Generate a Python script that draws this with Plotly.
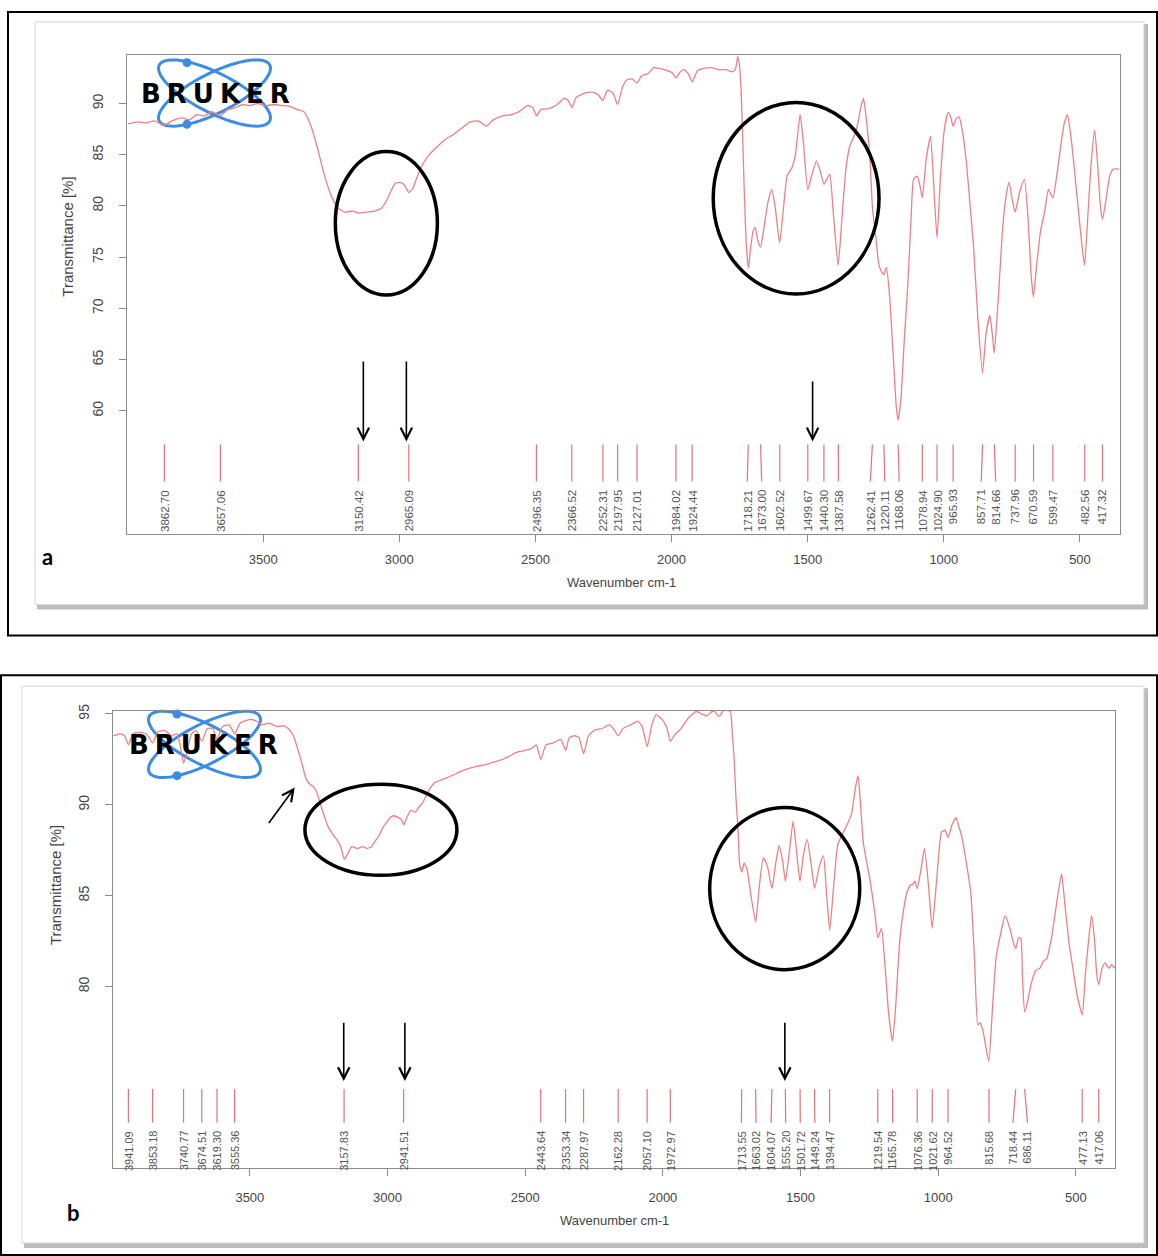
import numpy as np
import plotly.graph_objects as go

W, H = 1158, 1256

# ---------------- data: panel a ----------------
wn_a = [3996, 3960, 3930, 3900, 3862, 3835, 3800, 3770, 3745, 3715,
        3688, 3657, 3630, 3600, 3575, 3550, 3520, 3490, 3460, 3430,
        3400, 3375, 3350, 3327, 3300, 3275, 3250, 3225, 3200, 3170,
        3150, 3120, 3090, 3065, 3045, 3030, 3015, 2995, 2980, 2965,
        2950, 2935, 2915, 2890, 2860, 2830, 2800, 2770, 2740, 2710,
        2680, 2655, 2620, 2590, 2560, 2530, 2510, 2496, 2480, 2450,
        2420, 2395, 2380, 2366, 2350, 2320, 2290, 2268, 2252, 2235,
        2215, 2198, 2180, 2165, 2145, 2127, 2110, 2087, 2065, 2040,
        2015, 1998, 1984, 1968, 1954, 1938, 1924, 1905, 1885, 1855,
        1825, 1800, 1775, 1765, 1757, 1750, 1745, 1740, 1733, 1725,
        1718, 1710, 1700, 1693, 1683, 1673, 1660, 1645, 1632, 1620,
        1603, 1590, 1575, 1560, 1545, 1528, 1515, 1500, 1485, 1468,
        1455, 1440, 1430, 1419, 1405, 1388, 1375, 1360, 1346, 1330,
        1318, 1305, 1295, 1285, 1272, 1262, 1250, 1240, 1230, 1220,
        1211, 1200, 1185, 1175, 1168, 1158, 1145, 1131, 1120, 1111,
        1098, 1088, 1079, 1065, 1049, 1037, 1025, 1012, 998, 984,
        975, 966, 955, 944, 930, 917, 905, 891, 875, 858,
        845, 831, 822, 815, 800, 784, 770, 760, 750, 738,
        720, 704, 690, 680, 671, 660, 645, 630, 616, 608,
        599, 585, 570, 558, 546, 532, 517, 500, 490, 483,
        470, 458, 446, 435, 425, 417, 405, 390, 377, 357]
tr_a = [88.0, 88.2, 88.1, 88.3, 87.9, 88.3, 88.6, 88.4, 88.9, 88.8,
        89.2, 88.8, 89.4, 89.6, 89.9, 89.8, 90.0, 89.8, 89.9, 89.8,
        89.7, 89.4, 89.2, 88.0, 85.6, 83.0, 81.0, 79.8, 79.4, 79.5,
        79.3, 79.4, 79.5, 79.8, 80.6, 81.5, 82.2, 82.3, 82.0, 81.3,
        81.7, 82.8, 84.0, 85.0, 85.8, 86.5, 87.0, 87.6, 88.2, 88.3,
        87.8, 88.4, 88.8, 88.9, 89.2, 89.8, 89.6, 88.8, 89.4, 89.5,
        89.9, 90.5, 90.3, 89.6, 90.6, 91.0, 91.1, 90.8, 90.3, 91.3,
        91.0, 89.9, 91.6, 92.3, 92.4, 92.0, 92.7, 92.9, 93.5, 93.4,
        93.2, 93.0, 92.5, 93.1, 93.3, 92.9, 92.1, 93.2, 93.4, 93.5,
        93.3, 93.3, 93.1, 93.4, 94.6, 93.6, 91.5, 87.8, 81.5, 76.0,
        73.9, 75.8, 77.6, 77.9, 76.6, 76.0, 78.0, 80.5, 81.6, 80.0,
        76.4, 79.5, 83.0, 83.6, 85.0, 88.9, 86.0, 81.6, 83.0, 84.4,
        83.5, 82.1, 82.6, 83.1, 79.0, 74.2, 78.5, 83.5, 85.8, 86.8,
        87.8, 89.6, 90.5, 88.5, 84.9, 79.8, 77.0, 74.5, 73.6, 73.3,
        74.0, 71.5, 65.0, 60.5, 59.1, 61.0, 67.0, 72.9, 79.0, 82.6,
        82.9, 82.0, 80.8, 84.5, 86.8, 82.0, 76.9, 83.0, 87.5, 89.1,
        88.7, 87.8, 88.5, 88.7, 87.0, 84.2, 80.5, 76.1, 69.0, 63.7,
        67.5, 69.3, 67.5, 65.6, 71.0, 77.8, 81.2, 82.3, 80.8, 79.4,
        81.5, 82.6, 78.5, 73.5, 71.1, 74.0, 77.5, 79.4, 81.6, 81.2,
        80.8, 83.0, 86.0, 88.0, 88.9, 86.5, 82.6, 78.0, 75.5, 74.2,
        79.5, 84.5, 87.4, 84.0, 80.0, 78.7, 80.5, 83.0, 83.6, 83.6]
peaks_a = [3862.70, 3657.06, 3150.42, 2965.09, 2496.35, 2366.52, 2252.31,
           2197.95, 2127.01, 1984.02, 1924.44, 1718.21, 1673.00, 1602.52,
           1499.67, 1440.30, 1387.58, 1262.41, 1220.11, 1168.06, 1078.94,
           1024.90, 965.93, 857.71, 814.66, 737.96, 670.59, 599.47,
           482.56, 417.32]

# ---------------- data: panel b ----------------
wn_b = [3996, 3970, 3955, 3941, 3925, 3900, 3875, 3853, 3835, 3810,
        3785, 3765, 3752, 3741, 3728, 3712, 3695, 3674, 3655, 3635,
        3619, 3600, 3575, 3555, 3535, 3500, 3475, 3454, 3430, 3401,
        3375, 3361, 3345, 3335, 3315, 3295, 3280, 3269, 3255, 3243,
        3228, 3216, 3200, 3185, 3170, 3157, 3145, 3130, 3110, 3090,
        3075, 3058, 3045, 3031, 3015, 3005, 2990, 2978, 2960, 2950,
        2941, 2930, 2915, 2899, 2885, 2873, 2860, 2846, 2830, 2800,
        2767, 2740, 2714, 2680, 2648, 2615, 2582, 2555, 2529, 2500,
        2477, 2460, 2443, 2425, 2400, 2371, 2353, 2340, 2320, 2305,
        2288, 2270, 2249, 2220, 2196, 2180, 2162, 2145, 2117, 2091,
        2075, 2057, 2040, 2024, 2010, 1998, 1985, 1973, 1955, 1939,
        1920, 1906, 1890, 1879, 1860, 1840, 1825, 1813, 1800, 1793,
        1780, 1773, 1762, 1754, 1748, 1741, 1735, 1727, 1721, 1713,
        1705, 1695, 1680, 1663, 1650, 1635, 1620, 1604, 1590, 1578,
        1565, 1555, 1540, 1527, 1515, 1502, 1490, 1476, 1462, 1449,
        1432, 1417, 1405, 1394, 1380, 1365, 1351, 1331, 1315, 1300,
        1291, 1282, 1272, 1258, 1245, 1230, 1219, 1206, 1195, 1180,
        1166, 1155, 1140, 1125, 1113, 1100, 1094, 1085, 1076, 1062,
        1050, 1035, 1022, 1005, 988, 975, 964, 950, 935, 925,
        915, 900, 882, 868, 856, 848, 838, 825, 816, 803,
        790, 772, 757, 740, 725, 718, 708, 700, 694, 686,
        675, 660, 645, 631, 618, 605, 595, 585, 570, 552,
        540, 525, 513, 495, 477, 465, 452, 443, 432, 425,
        417, 405, 394, 380, 370, 358]
tr_b = [93.8, 93.9, 93.8, 93.3, 93.9, 94.0, 93.9, 93.4, 94.0, 94.1,
        93.8, 93.9, 93.2, 92.3, 92.9, 93.9, 94.1, 93.5, 94.2, 94.2,
        93.6, 94.3, 94.4, 93.9, 94.5, 94.7, 94.6, 94.4, 94.5, 94.3,
        94.35, 94.2, 93.9, 93.5, 92.5, 91.4, 91.1, 91.0, 90.6, 90.0,
        89.3, 88.8, 88.4, 88.1, 87.7, 87.0, 87.3, 87.7, 87.6, 87.7,
        87.6, 87.7, 88.0, 88.3, 88.8, 89.0, 89.3, 89.4, 89.3, 89.2,
        88.9, 89.3, 89.7, 89.6, 89.9, 90.1, 90.5, 90.9, 91.2, 91.4,
        91.6, 91.8, 91.95, 92.1, 92.2, 92.35, 92.5, 92.7, 92.9, 93.0,
        93.1, 93.3, 92.5, 93.3, 93.4, 93.6, 93.0, 93.7, 93.8, 93.7,
        92.8, 93.8, 94.1, 94.2, 94.4, 94.2, 93.8, 94.2, 94.4, 94.6,
        94.3, 93.2, 94.4, 94.96, 94.8, 94.6, 94.2, 93.5, 93.9, 94.1,
        94.5, 94.8, 95.0, 95.15, 95.0, 94.9, 95.1, 95.15, 94.9, 94.9,
        95.2, 95.3, 95.2, 95.1, 94.0, 92.5, 90.5, 88.6, 86.7, 86.3,
        86.8, 86.5, 85.0, 83.55, 85.5, 87.1, 86.6, 85.4, 86.8, 87.75,
        86.9, 85.8, 87.5, 89.1, 87.5, 85.8, 87.2, 88.1, 86.8, 85.4,
        86.6, 87.2, 85.0, 83.1, 85.5, 87.8, 88.3, 88.9, 89.5, 91.0,
        91.6, 90.0, 87.9, 86.7, 85.6, 84.0, 82.7, 83.2, 81.5, 78.5,
        77.0, 78.8, 82.5, 84.3, 85.2, 85.6, 85.6, 85.8, 85.4, 86.5,
        87.6, 85.5, 83.2, 86.0, 88.5, 88.6, 88.2, 88.9, 89.3, 88.8,
        88.3, 87.0, 85.2, 81.5, 77.9, 78.0, 77.6, 76.5, 75.9, 78.8,
        81.55, 83.0, 83.9, 83.2, 82.3, 82.1, 82.7, 82.65, 80.5, 78.6,
        79.2, 80.3, 80.9, 81.0, 81.4, 81.55, 82.2, 83.0, 84.6, 86.2,
        84.5, 82.4, 81.2, 79.5, 78.45, 80.8, 82.8, 83.9, 82.5, 80.8,
        80.1, 81.0, 81.3, 81.0, 81.2, 81.0]
peaks_b = [3941.09, 3853.18, 3740.77, 3674.51, 3619.30, 3555.36, 3157.83,
           2941.51, 2443.64, 2353.34, 2287.97, 2162.28, 2057.10, 1972.97,
           1713.55, 1663.02, 1604.07, 1555.20, 1501.72, 1449.24, 1394.47,
           1219.54, 1165.78, 1076.36, 1021.62, 964.52, 815.68, 718.44,
           686.11, 477.13, 417.06]

x_ticks = [3500, 3000, 2500, 2000, 1500, 1000, 500]
y_ticks_a = [60, 65, 70, 75, 80, 85, 90]
y_ticks_b = [80, 85, 90, 95]

# ---------------- styling ----------------
SPEC_COLOR = "#f07f84"
MARK_COLOR = "#e8707c"
AX_COLOR = "#8c8c8c"
TXT = "#444444"
FONT = "Liberation Sans, Arial, sans-serif"


def PX(x):
    return x / W


def PY(y):
    return 1 - y / H


def spread(peaks, gap):
    pos = list(peaks)
    for _ in range(400):
        moved = False
        for i in range(len(pos) - 1):
            d = pos[i] - pos[i + 1]
            if d < gap - 1e-6:
                s = (gap - d) / 2
                pos[i] += s
                pos[i + 1] -= s
                moved = True
        if not moved:
            break
    return pos


fig = go.Figure()

panels = [
    dict(wn=wn_a, tr=tr_a, peaks=peaks_a, xa="x", ya="y",
         line_top=56.7, line_bot=53.1, lab_top=52.5, lab_size=11.5),
    dict(wn=wn_b, tr=tr_b, peaks=peaks_b, xa="x2", ya="y2",
         line_top=74.37, line_bot=72.5, lab_top=72.18, lab_size=11),
]

annotations = []
for p in panels:
    fig.add_trace(go.Scatter(x=p["wn"], y=p["tr"], mode="lines",
                             line=dict(color=SPEC_COLOR, width=1.3, shape="spline", smoothing=0.5),
                             xaxis=p["xa"], yaxis=p["ya"], showlegend=False, hoverinfo="skip"))
    lab_x = spread(p["peaks"], 53)
    lx, ly = [], []
    for pk, lb in zip(p["peaks"], lab_x):
        lx += [pk, lb, None]
        ly += [p["line_top"], p["line_bot"], None]
        annotations.append(dict(x=lb, y=p["lab_top"], xref=p["xa"], yref=p["ya"],
                                text=f"{pk:.2f}", showarrow=False, textangle=-90,
                                xanchor="center", yanchor="top",
                                font=dict(size=p["lab_size"], color="#555555", family=FONT)))
    fig.add_trace(go.Scatter(x=lx, y=ly, mode="lines",
                             line=dict(color=MARK_COLOR, width=1.2),
                             xaxis=p["xa"], yaxis=p["ya"], showlegend=False, hoverinfo="skip"))

axis_common = dict(showgrid=False, zeroline=False, showline=True, mirror=True,
                   linecolor=AX_COLOR, linewidth=1, ticks="outside", ticklen=7,
                   tickcolor=AX_COLOR, tickwidth=1)

fig.update_layout(
    width=W, height=H,
    margin=dict(l=0, r=0, t=0, b=0),
    paper_bgcolor="white", plot_bgcolor="rgba(0,0,0,0)",
    showlegend=False,
    xaxis=dict(domain=[PX(127), PX(1120)], range=[4000, 353], anchor="y",
               tickvals=x_ticks, ticktext=[str(v) for v in x_ticks],
               tickfont=dict(size=13, color=TXT, family=FONT), ticklabelstandoff=6,
               **axis_common),
    yaxis=dict(domain=[PY(530), PY(48)], range=[47.96, 94.76], anchor="x",
               tickvals=y_ticks_a, tickangle=-90,
               tickfont=dict(size=14, color=TXT, family=FONT), ticklabelstandoff=10,
               **axis_common),
    xaxis2=dict(domain=[PX(113), PX(1115)], range=[3997, 358], anchor="y2",
                tickvals=x_ticks, ticktext=[str(v) for v in x_ticks],
                tickfont=dict(size=13, color=TXT, family=FONT), ticklabelstandoff=10,
                **axis_common),
    yaxis2=dict(domain=[PY(1168), PY(708)], range=[69.99, 95.16], anchor="x2",
                tickvals=y_ticks_b, tickangle=-90,
                tickfont=dict(size=14, color=TXT, family=FONT), ticklabelstandoff=10,
                **axis_common),
)

shapes = []
# outer black borders
for (x0, y0, x1, y1) in [(8, 5, 1157, 632), (1, 672, 1157, 1255)]:
    shapes.append(dict(type="rect", xref="paper", yref="paper", x0=PX(x0), x1=PX(x1),
                       y0=PY(y1), y1=PY(y0), line=dict(color="black", width=2),
                       fillcolor="rgba(0,0,0,0)", layer="below"))
# inner image frames with shadow
for (x0, y0, x1, y1) in [(35, 15, 1144, 601), (22, 683, 1144, 1243)]:
    shapes.append(dict(type="rect", xref="paper", yref="paper", x0=PX(x0 + 2), x1=PX(x1 + 4),
                       y0=PY(y1 + 5), y1=PY(y0 + 2), line=dict(width=0),
                       fillcolor="#bdbdbd", layer="below"))
    shapes.append(dict(type="rect", xref="paper", yref="paper", x0=PX(x0), x1=PX(x1),
                       y0=PY(y1), y1=PY(y0), line=dict(color="#d4d4d4", width=1),
                       fillcolor="white", layer="below"))


def ellipse_path(cx, cy, a, b, th):
    t = np.linspace(0, 2 * np.pi, 80)
    c, s = np.cos(np.radians(th)), np.sin(np.radians(th))
    xs = cx + a * np.cos(t) * c - b * np.sin(t) * s
    ys = cy + a * np.cos(t) * s + b * np.sin(t) * c
    pts = [f"{PX(x):.5f},{PY(y):.5f}" for x, y in zip(xs, ys)]
    return "M" + " L".join(pts) + " Z"


LOGO_BLUE = "#3b8de3"
logos = [dict(cx=214.5, cy=86.5, dots=[(187, 56), (187, 118)], tx=218, ty=87.5),
         dict(cx=204.5, cy=741.5, dots=[(177, 711), (177, 773)], tx=206, ty=742.5)]
for lg in logos:
    for th in (27, -27):
        shapes.append(dict(type="path", xref="paper", yref="paper",
                           path=ellipse_path(lg["cx"], lg["cy"], 62, 20, th),
                           line=dict(color=LOGO_BLUE, width=3), layer="below"))
    for (dx, dy) in lg["dots"]:
        shapes.append(dict(type="circle", xref="paper", yref="paper",
                           x0=PX(dx - 4.5), x1=PX(dx + 4.5), y0=PY(dy + 4.5), y1=PY(dy - 4.5),
                           fillcolor=LOGO_BLUE, line=dict(width=0), layer="below"))
    annotations.append(dict(x=PX(lg["tx"]), y=PY(lg["ty"]), xref="paper", yref="paper",
                            text="<b><span style='letter-spacing:6px'>BRUKER</span></b>",
                            showarrow=False, xanchor="center", yanchor="middle",
                            font=dict(size=26, color="black", family="DejaVu Sans")))

# highlight ellipses (data coords)
ellipses = [("x", "y", 3235, 2860, 71.3, 85.3), ("x", "y", 1847, 1238, 71.4, 90.1),
            ("x2", "y2", 3300, 2748, 86.12, 91.13), ("x2", "y2", 1830, 1285, 80.93, 89.85)]
for (xr, yr, x0, x1, y0, y1) in ellipses:
    shapes.append(dict(type="circle", xref=xr, yref=yr, x0=x0, x1=x1, y0=y0, y1=y1,
                       line=dict(color="black", width=3.5), layer="above"))

# arrows (head x, head y, tail x, tail y)
arrows = [("x", "y", 3132, 57.0, 3132, 64.95), ("x", "y", 2974, 57.0, 2974, 64.95),
          ("x", "y", 1482, 57.0, 1482, 63.0),
          ("x2", "y2", 3159, 74.8, 3159, 78.09), ("x2", "y2", 2937, 74.8, 2937, 78.09),
          ("x2", "y2", 1557, 74.8, 1557, 78.09),
          ("x2", "y2", 3337, 90.95, 3435, 88.92)]
for (xr, yr, hx, hy, tx, ty) in arrows:
    annotations.append(dict(x=hx, y=hy, ax=tx, ay=ty, xref=xr, yref=yr, axref=xr, ayref=yr,
                            text="", showarrow=True, arrowhead=5, arrowsize=1.4,
                            arrowwidth=1.6, arrowcolor="black"))

# axis titles
for (x, y) in [(622, 579), (614, 1220)]:
    annotations.append(dict(x=PX(x), y=PY(y), xref="paper", yref="paper", text="Wavenumber cm-1",
                            showarrow=False, xanchor="center", yanchor="middle",
                            font=dict(size=13, color=TXT, family=FONT)))
for (x, y) in [(68, 231), (55, 883)]:
    annotations.append(dict(x=PX(x), y=PY(y), xref="paper", yref="paper", text="Transmittance [%]",
                            showarrow=False, xanchor="center", yanchor="middle", textangle=-90,
                            font=dict(size=15, color=TXT, family=FONT)))
# panel letters
for (x, y, t) in [(47, 553, "a"), (73, 1212, "b")]:
    annotations.append(dict(x=PX(x), y=PY(y), xref="paper", yref="paper", text=f"<b>{t}</b>",
                            showarrow=False, xanchor="center", yanchor="middle",
                            font=dict(size=22, color="black", family="Lato")))

fig.update_layout(shapes=shapes, annotations=annotations)
fig.write_html("out.html", config={"displayModeBar": False},
               post_script="document.body.style.margin='0';document.body.style.overflow='hidden';")
